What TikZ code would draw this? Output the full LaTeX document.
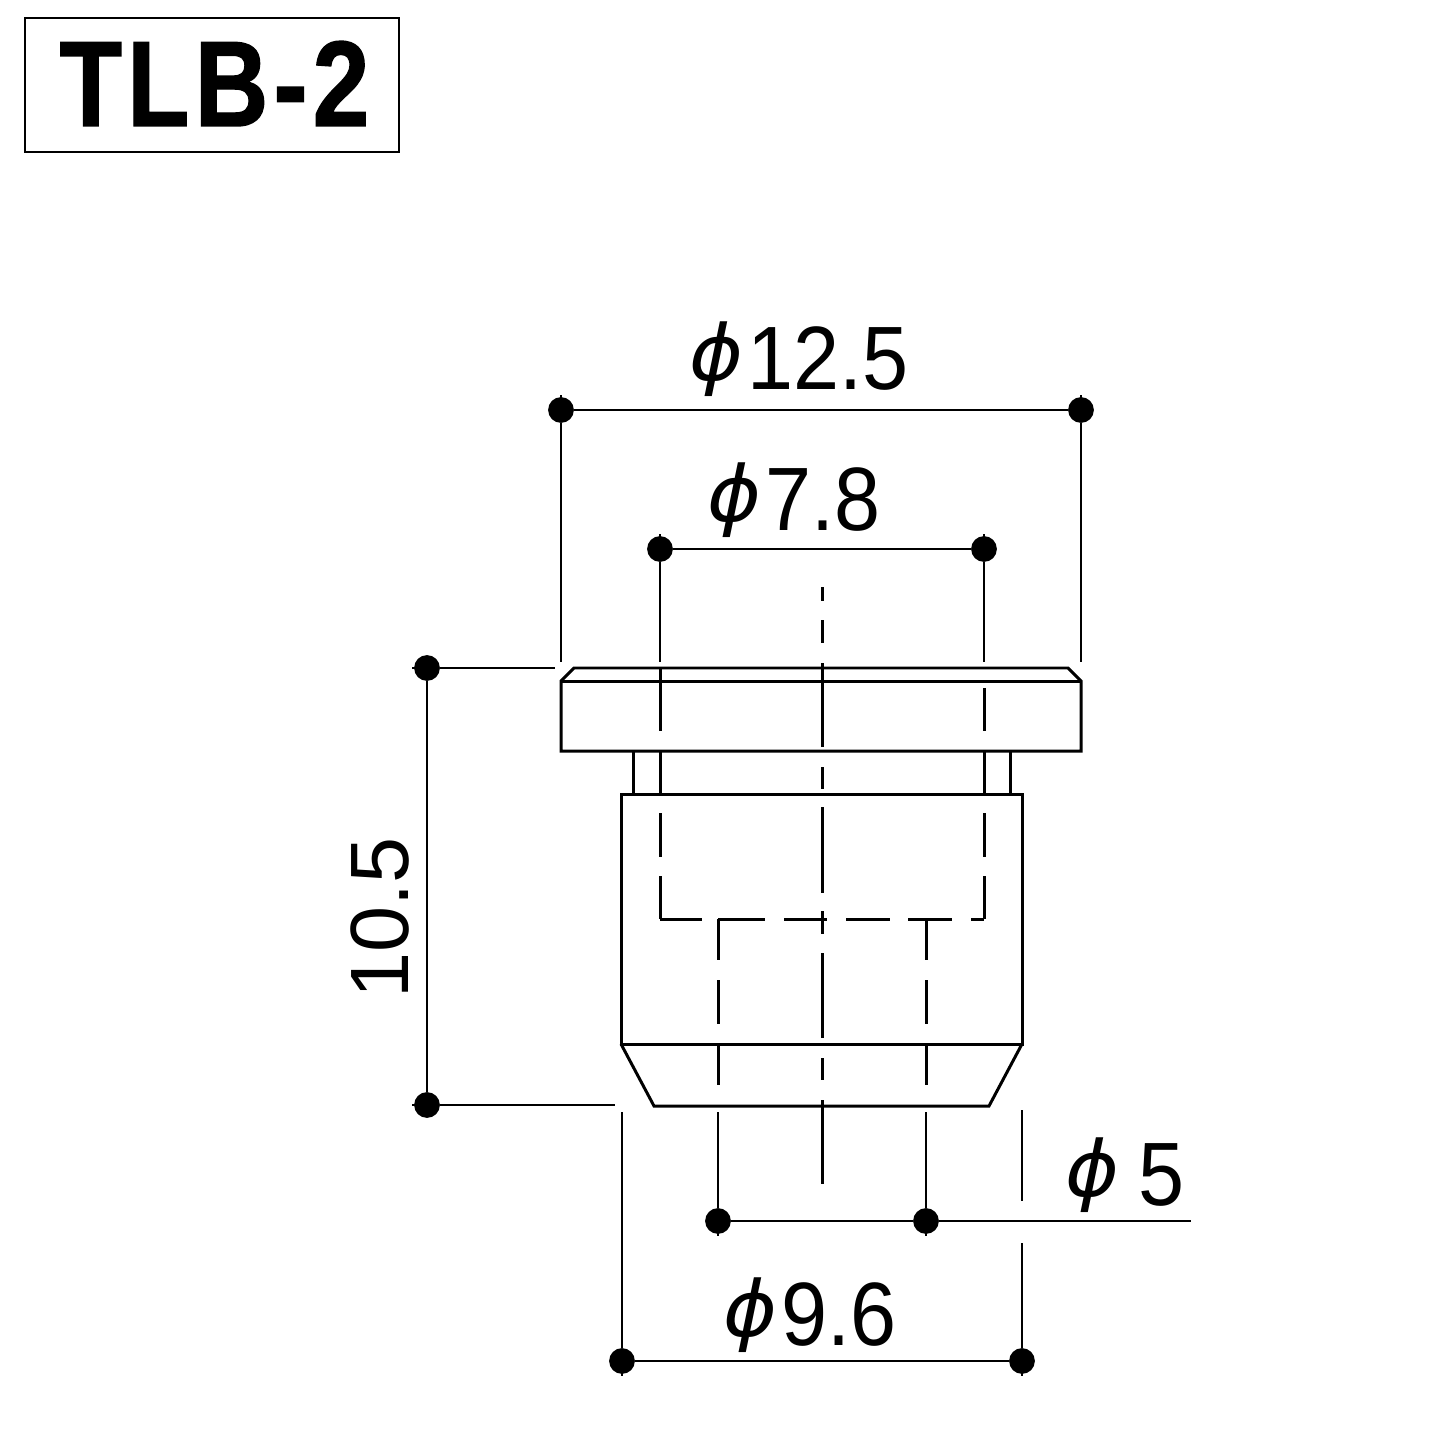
\documentclass[tikz,border=0pt]{standalone}
\usepackage{fontspec}
\setmainfont{Liberation Sans}
\newfontfamily\titlefont[FakeBold=1.2,LetterSpace=5]{Liberation Sans Bold}
\newfontfamily\phifont{DejaVu Sans Oblique}
\newcommand{\dotsize}{.86mm}
\newcommand{\dia}{{\fontsize{22}{24}\phifont\raisebox{.9mm}{\scalebox{1.15}[1]{ϕ}}}\kern.5mm}
\tikzset{
  dimdot/.style={draw, circle, fill, inner sep=\dotsize},
  dimtext/.style={anchor=base, inner sep=0pt, xscale=.92, font=\fontsize{25.6}{30}\selectfont},
  part/.style={line width=.85pt, line join=miter},
  dimline/.style={line width=.75pt}
}

\begin{document}
\begin{tikzpicture}[x=.1mm,y=-.1mm]
  \useasboundingbox (0,0) rectangle (1445,1445);
  \node (title) at (212,85) [draw, line width=.5pt, minimum width=37.4mm, minimum height=13.4mm] {};
  \node (titletext) at (214.5,126) [anchor=base, inner sep=0pt, xscale=.84, font=\fontsize{34.6}{40}\titlefont] {TLB-2};

  % dots
  \node (top1) at (561,410) [dimdot] {};
  \node (top2) at (1081,410) [dimdot] {};
  \node (mid1) at (660,549) [dimdot] {};
  \node (mid2) at (984,549) [dimdot] {};
  \node (len1) at (427,668) [dimdot] {};
  \node (len2) at (427,1105) [dimdot] {};
  \node (bore1) at (718,1221) [dimdot] {};
  \node (bore2) at (926,1221) [dimdot] {};
  \node (body1) at (622,1361) [dimdot] {};
  \node (body2) at (1022,1361) [dimdot] {};
  \coordinate (top1end) at (561,662);
  \coordinate (top2end) at (1081,662);
  \coordinate (mid1end) at (660,662);
  \coordinate (mid2end) at (984,662);
  \coordinate (len1end) at (555,668);
  \coordinate (len2end) at (615,1105);
  \coordinate (body1end) at (622,1112);
  \coordinate (body2end) at (1022,1243);
  \coordinate (bore1end) at (718,1112);
  \coordinate (bore2end) at (926,1112);
  \coordinate (boreout) at (1191,1221);

  % dimension lines
  \draw[dimline] (top1) to (top2);
  \draw[dimline] (mid1) to (mid2);
  \draw[dimline] (len1) to (len2);
  \draw[dimline] (bore1) to (bore2) to (boreout);
  \draw[dimline] (body1) to (body2);
  \draw[dimline] (top1) to (top1end);
  \draw[dimline] (top2) to (top2end);
  \draw[dimline] (mid1) to (mid1end);
  \draw[dimline] (mid2) to (mid2end);
  \draw[dimline] (len1) to (len1end);
  \draw[dimline] (len2) to (len2end);
  \draw[dimline] (body1) to (body1end);
  \draw[dimline] (body2) to (body2end);
  \draw[dimline] (bore1) to (bore1end);
  \draw[dimline] (bore2) to (bore2end);
  \draw[dimline] (1022,1110) -- (1022,1201);
  % ticks past the dots
  \foreach \d/\a in {len1/180,len2/180,bore1/90,bore2/90,body1/90,body2/90,top1/270,top2/270,mid1/270,mid2/270}
    \draw[dimline] (\d.center) -- ++(\a:15);

  % part outline
  \draw[part] (561,751) -- (561,681) -- (574,668) -- (1068,668) -- (1081,681) -- (1081,751) -- cycle;
  \draw[part] (561,681) -- (1081,681);
  \foreach \x in {633,660,984,1010}
    \draw[part] (\x,751) -- (\x,794);
  \draw[part] (621,1044) -- (621,794) -- (1022,794) -- (1022,1044) -- cycle;
  \draw[part] (621,1044) -- (654,1106) -- (989,1106) -- (1022,1044);

  % hidden lines
  \foreach \x in {660,984}
    \foreach \a/\b in {813/857,876/919}
      \draw[part] (\x,\a) -- (\x,\b);
  \draw[part] (660,668) -- (660,731);
  \draw[part] (984,688) -- (984,731);
  \foreach \a/\b in {660/702,718/765,784/827,846/890,908/952,971/984}
    \draw[part] (\a,919) -- (\b,919);
  \foreach \x in {718,926}
    \foreach \a/\b in {919/960,980/1024,1044/1085}
      \draw[part] (\x,\a) -- (\x,\b);
  % centre line
  \foreach \a/\b in {587/601,620/643,663/747,767/789,807/893,911/934,953/1038,1058/1080,1100/1184}
    \draw[part] (822,\a) -- (822,\b);

  % labels
  \node (dtop) at (799,389) [dimtext] {\dia12.5};
  \node (dmid) at (794,530) [dimtext] {\dia7.8};
  \node (dbore) at (1125,1205) [dimtext] {\dia\,5};
  \node (dbody) at (810,1345) [dimtext] {\dia9.6};
  \node (dlen) at (408,918) [dimtext, xscale=1, yscale=.92, rotate=90] {10.5};
\end{tikzpicture}
\end{document}
